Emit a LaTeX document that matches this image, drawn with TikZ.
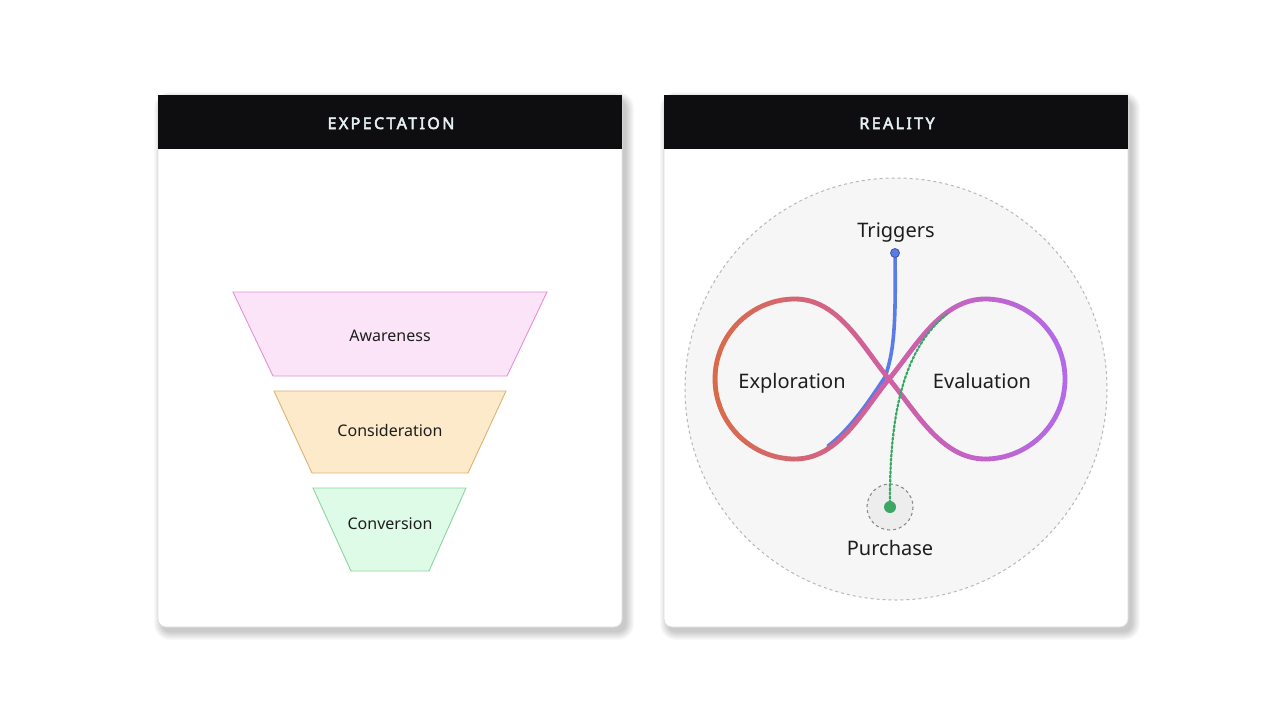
\documentclass[tikz,border=0pt]{standalone}
\usepackage{fontspec}
\setmainfont{Noto Sans}
\newfontfamily\hdrfont[LetterSpace=15,FakeBold=3.2]{Noto Sans}
\definecolor{hdrbg}{HTML}{0E0E11}
\definecolor{hdrtx}{HTML}{E6EEF0}
\definecolor{txt}{HTML}{1E1E1E}
\definecolor{awfill}{HTML}{FCE4F8}
\definecolor{awdraw}{HTML}{E391D6}
\definecolor{cofill}{HTML}{FDEACB}
\definecolor{codraw}{HTML}{DDB272}
\definecolor{cvfill}{HTML}{DDFBE6}
\definecolor{cvdraw}{HTML}{8ED3A4}
\definecolor{lorange}{HTML}{D96B4A}
\definecolor{lpink}{HTML}{D05FA5}
\definecolor{lpurple}{HTML}{B369EC}
\definecolor{trigblue}{HTML}{5B7BE8}
\definecolor{purgreen}{HTML}{3AA864}
\usetikzlibrary{calc}
\begin{document}
\begin{tikzpicture}[x=1pt,y=-1pt,
  panel/.style={fill=white,draw=black!13,line width=0.8pt,rounded corners=8pt},
  header/.style={fill=hdrbg},
  hdrtext/.style={anchor=base,text=hdrtx,font=\hdrfont\fontsize{16}{19}\selectfont},
  funtext/.style={anchor=base,text=txt,font=\fontsize{16}{19}\selectfont},
  bigtext/.style={anchor=base,text=txt,font=\fontsize{20}{24}\selectfont},
  funnelbox/.style={line width=0.9pt},
]
\useasboundingbox (0,0) rectangle (1280,720);
\fill[white] (0,0) rectangle (1280,720);

% shadows
\foreach \px in {158,664}{
  \foreach \i in {0,...,8}{
    \fill[black,opacity=0.022,rounded corners={8+\i}]
      ({\px+4-\i},{95+5-\i}) rectangle ({\px+464+4+\i},{627+5+\i});
  }
}

% panels
\path[panel] (158,95) rectangle (622,627);
\path[panel] (664,95) rectangle (1128,627);
\fill[header] (158,95) rectangle (622,149);
\fill[header] (664,95) rectangle (1128,149);
\node[hdrtext] (hexp) at (391,129) {EXPECTATION};
\node[hdrtext] (hrea) at (897,129) {REALITY};

% funnel
\filldraw[funnelbox,fill=awfill,draw=awdraw] (233,292) -- (547,292) -- (507,376) -- (273,376) -- cycle;
\filldraw[funnelbox,fill=cofill,draw=codraw] (274,391) -- (506,391) -- (468,473) -- (312,473) -- cycle;
\filldraw[funnelbox,fill=cvfill,draw=cvdraw] (313,488) -- (466,488) -- (429,571) -- (351,571) -- cycle;
\node[funtext] (aw) at (390,341) {Awareness};
\node[funtext] (co) at (390,436) {Consideration};
\node[funtext] (cv) at (390,529) {Conversion};

% reality circle
\filldraw[fill=black!3.5,draw=black!28,dashed,line width=1pt] (896,389) circle[radius=211];

% trigger line (under loop)
\coordinate (trigtop) at (895,253);
\coordinate (trigend) at (828,446);
\draw[trigblue,line width=3.6pt,line cap=round] (trigtop) .. controls (896,325) and (894,352) .. (885,377) .. controls (873,395) and (852,428) .. (trigend);

% infinity loop, colour varying left to right
\foreach \sx in {705,709,...,1073}{
  \pgfmathsetmacro{\u}{max(0,min(1,(\sx+2-715)/350))}
  \pgfmathtruncatemacro{\pa}{min(100,200*\u)}
  \pgfmathtruncatemacro{\pb}{max(0,200*\u-100)}
  \colorlet{segA}{lpink!\pa!lorange}
  \colorlet{segB}{lpurple!\pb!segA}
  \begin{scope}
    \clip (\sx,200) rectangle ({\sx+4.4},520);
    \draw[segB,line width=4.8pt]
      (889,379) .. controls (863,348) and (839,299) .. (795,299)
      .. controls (751,299) and (715,335) .. (715,379)
      .. controls (715,423) and (751,459) .. (795,459)
      .. controls (839,459) and (863,410) .. (889,379)
      .. controls (915,348) and (941,299) .. (985,299)
      .. controls (1029,299) and (1065,335) .. (1065,379)
      .. controls (1065,423) and (1029,459) .. (985,459)
      .. controls (941,459) and (915,410) .. cycle;
  \end{scope}
}

% trigger dot
\filldraw[fill=trigblue,draw=trigblue!70!black,line width=0.8pt] (trigtop) circle[radius=4.5];

% purchase
\filldraw[fill=black!7,draw=black!45,dashed,line width=1.1pt] (890,507) circle[radius=23];
\coordinate (greenstart) at (947,314);
\node[circle,fill=purgreen,inner sep=0pt,minimum size=12pt] (pdot) at (890,507) {};
\draw[purgreen,line width=2.2pt,dotted,line cap=round] (greenstart) .. controls (905,348) and (889,410) .. (pdot.center);

% labels
\node[bigtext] (trig) at (896,237) {Triggers};
\node[bigtext] (expl) at (792,388) {Exploration};
\node[bigtext] (eval) at (982,388) {Evaluation};
\node[bigtext] (purch) at (890,555) {Purchase};
\end{tikzpicture}
\end{document}
